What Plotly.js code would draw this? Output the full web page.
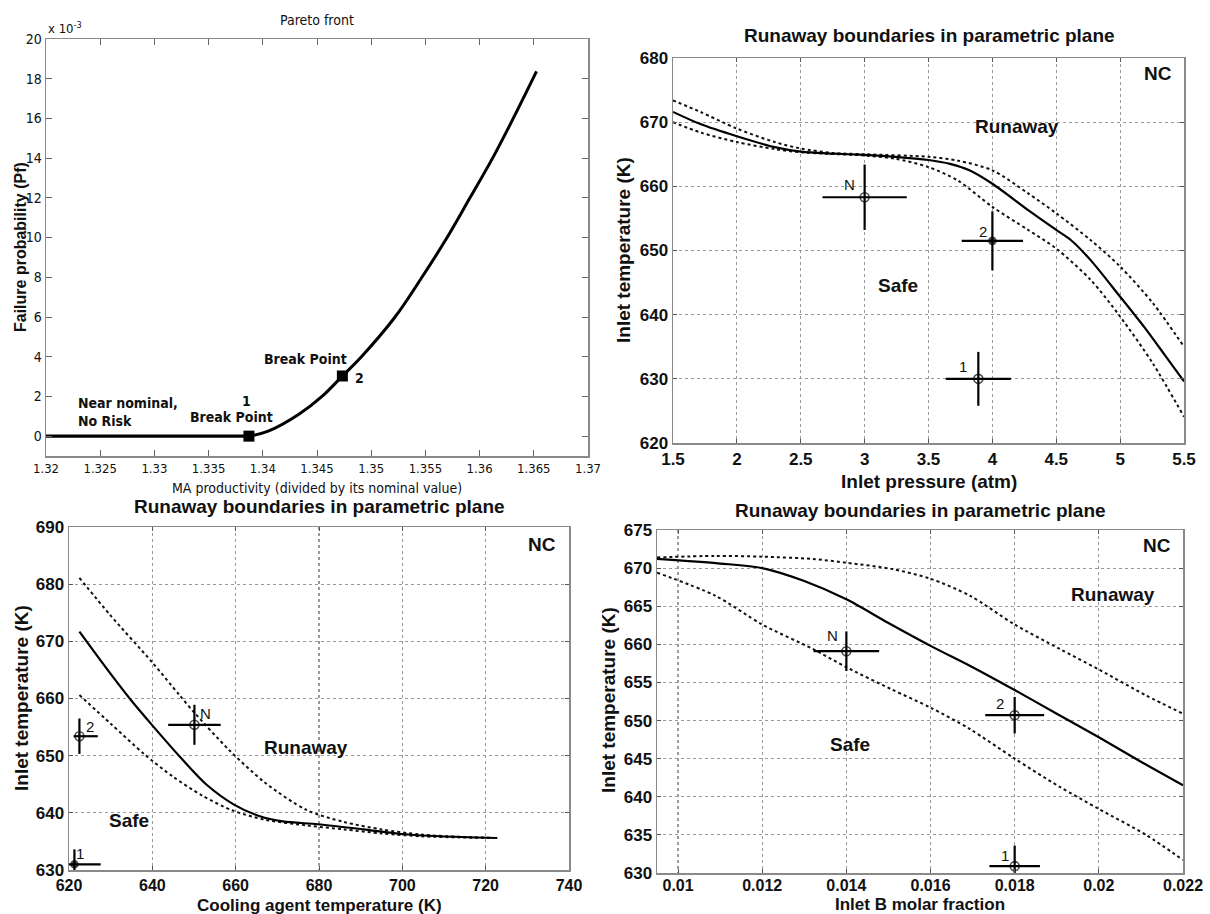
<!DOCTYPE html>
<html>
<head>
<meta charset="utf-8">
<script src="https://cdn.plot.ly/plotly-3.0.1.min.js"></script>
<style>html,body{margin:0;padding:0;background:#fff}#chart{width:1210px;height:914px}</style>
</head>
<body>
<div id="chart"></div>
<script>
// ---------- Panel 1: Pareto front ----------
const paretoFlatX = [1.32, 1.33872];
const paretoFlatY = [0, 0]; // x 10^-3
const paretoCurveX = [1.33872, 1.3405, 1.34333, 1.34546, 1.34734, 1.3491, 1.3522, 1.35468, 1.3570, 1.35911, 1.3612, 1.3631, 1.36525];
const paretoCurveY = [0, 0.25, 1.1, 2.0, 3.03, 4.0, 6.0, 8.0, 10.0, 12.0, 14.0, 16.0, 18.37]; // x 10^-3
const breakX = [1.33872, 1.34734];
const breakY = [0, 3.03];
const paretoXTicks = [1.32, 1.325, 1.33, 1.335, 1.34, 1.345, 1.35, 1.355, 1.36, 1.365, 1.37];
const paretoXTickText = ["1.32", "1.325", "1.33", "1.335", "1.34", "1.345", "1.35", "1.355", "1.36", "1.365", "1.37"];
const paretoYTicks = [0, 2, 4, 6, 8, 10, 12, 14, 16, 18, 20];

// ---------- Panel 2: Inlet pressure ----------
const pressSolidX = [1.5, 1.714, 2.0, 2.296, 2.5, 2.753, 3.0, 3.24, 3.5, 3.668, 3.82, 4.0, 4.28, 4.5, 4.616, 4.769, 5.0, 5.195, 5.35, 5.5];
const pressSolidY = [671.6, 669.7, 667.8, 666.1, 665.4, 665.1, 664.9, 664.6, 664.1, 663.5, 662.5, 660.4, 656.3, 653.2, 651.6, 648.5, 642.8, 637.9, 633.7, 629.6];
const pressUpperX = [1.5, 1.714, 2.0, 2.296, 2.5, 2.75, 3.0, 3.5, 3.73, 4.0, 4.28, 4.5, 4.77, 5.0, 5.256, 5.5];
const pressUpperY = [673.4, 671.6, 669.0, 666.9, 665.9, 665.2, 665.0, 664.6, 664.0, 662.5, 658.9, 655.8, 651.6, 647.5, 641.8, 635.0];
const pressLowerX = [1.5, 1.714, 2.0, 2.296, 2.5, 3.0, 3.24, 3.5, 3.73, 4.0, 4.28, 4.5, 4.77, 5.0, 5.256, 5.5];
const pressLowerY = [670.0, 668.4, 666.9, 665.8, 665.3, 664.8, 664.3, 663.0, 660.9, 656.8, 653.2, 650.3, 645.4, 639.7, 632.4, 624.1];
const pressPtLabels = ["N", "2", "1"];
const pressPtX = [3.0, 4.0, 3.89];
const pressPtY = [658.3, 651.5, 630.0];
const pressPtErrX = [0.33, 0.24, 0.255];
const pressPtErrY = [5.1, 4.6, 4.2];
const pressLblX = [2.88, 3.93, 3.77];
const pressLblY = [660.3, 652.9, 632.0];

// ---------- Panel 3: Cooling agent temperature ----------
const coolSolidX = [622.5, 630.0, 635.0, 640.0, 646.5, 652.9, 659.7, 665.8, 671.3, 679.7, 690.7, 699.8, 709.1, 722.8];
const coolSolidY = [671.7, 664.3, 659.6, 655.3, 649.9, 645.0, 641.4, 639.4, 638.5, 638.0, 637.1, 636.3, 635.9, 635.6];
const coolUpperX = [622.5, 630.0, 640.0, 646.5, 650.0, 658.4, 667.0, 677.0, 686.0, 695.0, 704.5, 713.7, 722.0];
const coolUpperY = [681.1, 674.5, 666.3, 660.6, 657.6, 651.0, 645.3, 640.5, 638.4, 637.1, 636.2, 635.8, 635.6];
const coolLowerX = [622.5, 630.0, 638.0, 645.0, 652.0, 659.3, 667.0, 677.0, 686.0, 695.0, 704.5, 713.7, 722.0];
const coolLowerY = [660.6, 655.6, 650.3, 646.3, 643.0, 640.4, 638.8, 637.8, 637.1, 636.4, 635.9, 635.7, 635.6];
const coolPtLabels = ["N", "2", "1"];
const coolPtX = [650.1, 622.5, 621.3];
const coolPtY = [655.4, 653.4, 631.0];
const coolPtErrXPlus = [6.3, 4.4, 6.3];
const coolPtErrXMinus = [6.3, 1.4, 6.3];
const coolPtErrY = [3.5, 3.1, 2.6];
const coolLblX = [652.7, 625.1, 622.7];
const coolLblY = [657.3, 655.1, 632.9];

// ---------- Panel 4: Inlet B molar fraction ----------
const fracSolidX = [0.0095, 0.011, 0.012, 0.013, 0.014, 0.015, 0.016, 0.017, 0.018, 0.019, 0.020, 0.021, 0.022];
const fracSolidY = [671.2, 670.6, 670.0, 668.3, 665.9, 662.8, 659.8, 657.0, 654.0, 650.9, 647.8, 644.6, 641.5];
const fracUpperX = [0.0095, 0.01088, 0.012, 0.0132, 0.014, 0.01507, 0.016, 0.01693, 0.018, 0.01907, 0.020, 0.02112, 0.022];
const fracUpperY = [671.4, 671.6, 671.5, 671.2, 670.7, 669.9, 668.6, 666.4, 662.6, 659.4, 656.7, 653.3, 650.9];
const fracLowerX = [0.0095, 0.01088, 0.012, 0.0132, 0.014, 0.01507, 0.016, 0.01693, 0.018, 0.01907, 0.020, 0.02112, 0.022];
const fracLowerY = [669.4, 666.4, 662.6, 659.4, 657.0, 654.1, 651.7, 648.9, 645.0, 641.3, 638.4, 635.0, 631.7];
const fracPtLabels = ["N", "2", "1"];
const fracPtX = [0.014, 0.018, 0.018];
const fracPtY = [659.1, 650.7, 630.9];
const fracPtErrX = [0.00078, 0.0007, 0.0006];
const fracPtErrY = [2.6, 2.4, 2.7];
const fracLblX = [0.01367, 0.01766, 0.01777];
const fracLblY = [661.1, 652.2, 632.3];
const fracXTicks = [0.01, 0.012, 0.014, 0.016, 0.018, 0.02, 0.022];
const fracXTickText = ["0.01", "0.012", "0.014", "0.016", "0.018", "0.02", "0.022"];

// ---------- helpers ----------
const W = 1210, H = 914;
const px = v => v / W;
const py = v => 1 - v / H;
const BOLD = "Liberation Sans, Arial, sans-serif";
const NARROW = "Liberation Sans Narrow, DejaVu Sans Condensed, Arial Narrow, Liberation Sans, sans-serif";

function solid(x, y, xa, ya, w) {
  return {x, y, xaxis: xa, yaxis: ya, type: "scatter", mode: "lines",
    line: {color: "#000", width: w || 2.2, shape: "spline", smoothing: 0.8}, showlegend: false, hoverinfo: "skip"};
}
function dotted(x, y, xa, ya) {
  return {x, y, xaxis: xa, yaxis: ya, type: "scatter", mode: "lines",
    line: {color: "#111", width: 2, dash: "dot", shape: "spline", smoothing: 0.8}, showlegend: false, hoverinfo: "skip"};
}
function crosses(x, y, ex, exm, ey, xa, ya, symbols, sizes) {
  return {x, y, xaxis: xa, yaxis: ya, type: "scatter", mode: "markers",
    marker: {symbol: symbols, size: sizes, color: "#000", line: {color: "#000", width: 1.6}},
    error_x: {type: "data", symmetric: exm ? false : true, array: ex, arrayminus: exm || ex, color: "#000", thickness: 2.2, width: 0},
    error_y: {type: "data", array: ey, color: "#000", thickness: 2.2, width: 0},
    showlegend: false, hoverinfo: "skip"};
}

const traces = [
  // panel 1
  {x: paretoFlatX, y: paretoFlatY, xaxis: "x", yaxis: "y", type: "scatter", mode: "lines",
   line: {color: "#000", width: 3.2}, showlegend: false, hoverinfo: "skip"},
  {x: paretoCurveX, y: paretoCurveY, xaxis: "x", yaxis: "y", type: "scatter", mode: "lines",
   line: {color: "#000", width: 3, shape: "spline", smoothing: 1}, showlegend: false, hoverinfo: "skip"},
  {x: breakX, y: breakY, xaxis: "x", yaxis: "y", type: "scatter", mode: "markers",
   marker: {symbol: "square", size: 11, color: "#000"}, showlegend: false, hoverinfo: "skip"},
  // panel 2
  dotted(pressUpperX, pressUpperY, "x2", "y2"),
  dotted(pressLowerX, pressLowerY, "x2", "y2"),
  solid(pressSolidX, pressSolidY, "x2", "y2"),
  crosses(pressPtX, pressPtY, pressPtErrX, null, pressPtErrY, "x2", "y2", ["circle-open", "circle", "circle-open"], [9, 7, 9]),
  // panel 3
  dotted(coolUpperX, coolUpperY, "x3", "y3"),
  dotted(coolLowerX, coolLowerY, "x3", "y3"),
  solid(coolSolidX, coolSolidY, "x3", "y3"),
  crosses(coolPtX, coolPtY, coolPtErrXPlus, coolPtErrXMinus, coolPtErrY, "x3", "y3", ["circle-open", "circle-open", "circle"], [9, 9, 7]),
  // panel 4
  dotted(fracUpperX, fracUpperY, "x4", "y4"),
  dotted(fracLowerX, fracLowerY, "x4", "y4"),
  solid(fracSolidX, fracSolidY, "x4", "y4"),
  crosses(fracPtX, fracPtY, fracPtErrX, null, fracPtErrY, "x4", "y4", ["circle-open", "circle-open", "circle-open"], [9, 9, 9])
];

function gridAxis(extra) {
  return Object.assign({
    showline: true, mirror: "ticks", linecolor: "#8a8a8a", linewidth: 1.5,
    ticks: "inside", ticklen: 4, tickcolor: "#555",
    showgrid: true, gridcolor: "#9a9a9a", griddash: "dot", gridwidth: 1.2,
    zeroline: false, tickfont: {family: BOLD, size: 17, color: "#111", weight: "bold"}
  }, extra);
}

const layout = {
  width: W, height: H, margin: {l: 0, r: 0, t: 0, b: 0},
  paper_bgcolor: "#fff", plot_bgcolor: "#fff", showlegend: false,
  xaxis: {domain: [px(46), px(588)], anchor: "y", range: [1.32, 1.37],
    tickvals: paretoXTicks, ticktext: paretoXTickText,
    showline: true, mirror: "ticks", linecolor: "#8a8a8a", linewidth: 1.5,
    ticks: "inside", ticklen: 6, tickcolor: "#666", showgrid: false, zeroline: false,
    tickfont: {family: NARROW, size: 13, color: "#111"}},
  yaxis: {domain: [py(456), py(39)], anchor: "x", range: [-1, 20], tickvals: paretoYTicks,
    showline: true, mirror: "ticks", linecolor: "#8a8a8a", linewidth: 1.5,
    ticks: "inside", ticklen: 6, tickcolor: "#666", showgrid: false, zeroline: false,
    tickfont: {family: NARROW, size: 14, color: "#111"}},
  xaxis2: gridAxis({domain: [px(673), px(1184)], anchor: "y2", range: [1.5, 5.5], dtick: 0.5}),
  yaxis2: gridAxis({domain: [py(443), py(58)], anchor: "x2", range: [620, 680], dtick: 10}),
  xaxis3: gridAxis({domain: [px(69), px(569)], anchor: "y3", range: [620, 740], dtick: 20,
    tickfont: {family: BOLD, size: 16, color: "#111", weight: "bold"}}),
  yaxis3: gridAxis({domain: [py(870), py(527)], anchor: "x3", range: [630, 690], dtick: 10}),
  xaxis4: gridAxis({domain: [px(657), px(1183)], anchor: "y4", range: [0.0095, 0.022],
    tickvals: fracXTicks, ticktext: fracXTickText, ticklabelstandoff: -3,
    tickfont: {family: BOLD, size: 16, color: "#111", weight: "bold"}}),
  yaxis4: gridAxis({domain: [py(873), py(530)], anchor: "x4", range: [630, 675], dtick: 5}),
  annotations: []
};

const A = layout.annotations;
function pa(text, x, y, opts) {
  A.push(Object.assign({text, x: px(x), y: py(y), xref: "paper", yref: "paper", showarrow: false,
    xanchor: "center", yanchor: "middle",
    font: {family: BOLD, size: 19, color: "#111", weight: "bold"}}, opts || {}));
}
function da(text, x, y, xr, yr, opts) {
  A.push(Object.assign({text, x, y, xref: xr, yref: yr, showarrow: false,
    xanchor: "center", yanchor: "middle",
    font: {family: BOLD, size: 19, color: "#111", weight: "bold"}}, opts || {}));
}
const axTitleFont = {family: BOLD, size: 19, color: "#111", weight: "bold"};
const bottomTitleFont = {family: BOLD, size: 17, color: "#111", weight: "bold"};

// Panel 1 texts
pa("Pareto front", 317, 20, {font: {family: NARROW, size: 14, color: "#111"}});
pa("x 10<sup>-3</sup>", 46, 28, {xanchor: "left", font: {family: NARROW, size: 13, color: "#111"}});
pa("MA productivity (divided by its nominal value)", 317, 488, {font: {family: NARROW, size: 14, color: "#111"}});
pa("Failure probability (Pf)", 20, 247, {textangle: -90, font: {family: BOLD, size: 16, color: "#111", weight: "bold"}});
const n1f = {family: NARROW, size: 14, color: "#111", weight: "bold"};
da("Near nominal,<br>No Risk", 1.3228, 1.2, "x", "y", {xanchor: "left", align: "left", font: n1f});
da("1", 1.3385, 1.75, "x", "y", {font: n1f});
da("Break Point", 1.3371, 0.95, "x", "y", {font: n1f});
da("Break Point", 1.3439, 3.9, "x", "y", {font: n1f});
da("2", 1.3489, 2.95, "x", "y", {font: n1f});

// Panel 2 texts
pa("Runaway boundaries in parametric plane", 929, 36);
pa("Inlet pressure (atm)", 929, 481, {font: axTitleFont});
pa("Inlet temperature (K)", 624, 250, {textangle: -90, font: axTitleFont});
da("NC", 5.3, 677.6, "x2", "y2");
da("Runaway", 4.19, 669.3, "x2", "y2");
da("Safe", 3.26, 644.6, "x2", "y2");
const lblf = {family: BOLD, size: 15, color: "#111"};
pressPtLabels.forEach((t, i) => da(t, pressLblX[i], pressLblY[i], "x2", "y2", {font: lblf}));

// Panel 3 texts
pa("Runaway boundaries in parametric plane", 319, 507);
pa("Cooling agent temperature (K)", 319, 905, {font: bottomTitleFont, borderpad: 0});
pa("Inlet temperature (K)", 21, 698, {textangle: -90, font: axTitleFont});
da("NC", 733.5, 686.9, "x3", "y3");
da("Runaway", 676.9, 651.5, "x3", "y3");
da("Safe", 634.5, 638.7, "x3", "y3");
coolPtLabels.forEach((t, i) => da(t, coolLblX[i], coolLblY[i], "x3", "y3", {font: lblf}));

// Panel 4 texts
pa("Runaway boundaries in parametric plane", 920, 510);
pa("Inlet B molar fraction", 920, 904, {font: bottomTitleFont, borderpad: 0});
pa("Inlet temperature (K)", 608, 700, {textangle: -90, font: axTitleFont});
da("NC", 0.02138, 673.0, "x4", "y4");
da("Runaway", 0.02033, 666.6, "x4", "y4");
da("Safe", 0.01409, 646.8, "x4", "y4");
fracPtLabels.forEach((t, i) => da(t, fracLblX[i], fracLblY[i], "x4", "y4", {font: lblf}));

Plotly.newPlot("chart", traces, layout, {staticPlot: true, displayModeBar: false});
</script>
</body>
</html>
